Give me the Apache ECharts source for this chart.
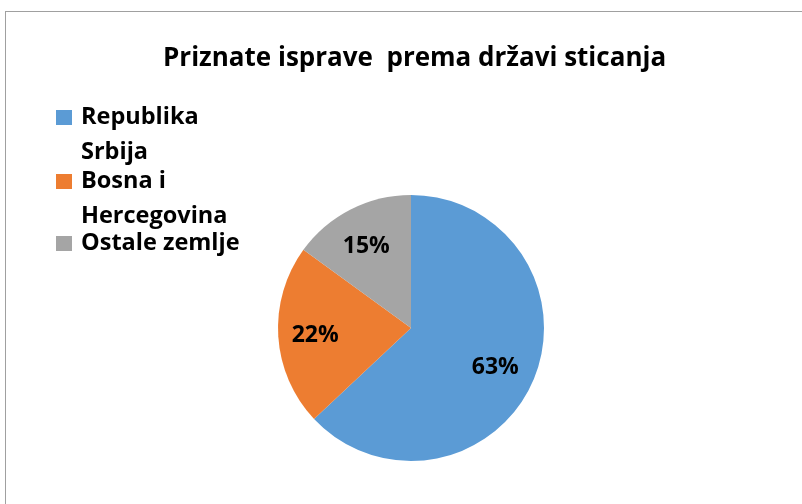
<!DOCTYPE html>
<html>
<head>
<meta charset="utf-8">
<script src="https://cdn.jsdelivr.net/npm/echarts@6/dist/echarts.min.js"></script>
<style>
  html, body { margin: 0; padding: 0; background: #fff; }
  #frame { position: absolute; left: 5px; top: 11px; width: 820px; height: 520px; border: 1px solid #a0a0a0; box-sizing: border-box; }
  #main { position: absolute; left: 0; top: 0; width: 802px; height: 504px; }
</style>
</head>
<body>
<div id="frame"></div>
<div id="main"></div>
<script>
const title = 'Priznate isprave  prema državi sticanja'
const categories = ['Republika Srbija', 'Bosna i Hercegovina', 'Ostale zemlje']
const legendLines = ['Republika\nSrbija', 'Bosna i\nHercegovina', 'Ostale zemlje']
const values = [63, 22, 15]
const colors = ['#5B9BD5', '#ED7D31', '#A5A5A5']

const font = 'Open Sans'
const pieData = categories.map((name, i) => ({ name: name, value: values[i] }))

// one legend per entry so the square sits next to the first text line
const legendTops = [100, 164, 226]
function makeLegend (i) {
  let twoLines = legendLines[i].indexOf('\n') >= 0
  return {
    orient: 'vertical',
    left: 56,
    top: legendTops[i],
    padding: 0,
    itemWidth: 20,
    itemHeight: twoLines ? 70 : 35,
    itemStyle: { borderWidth: 0 },
    data: [{
      name: categories[i],
      icon: twoLines
        ? 'path://M0,10h16v15h-16z M0,0L20,0 M0,70L20,70'
        : 'path://M0,10h16v15h-16z M0,0L20,0 M0,35L20,35'
    }],
    formatter: function (name) {
      return legendLines[categories.indexOf(name)]
    },
    textStyle: { fontFamily: font, fontWeight: 'bold', fontSize: 23.5, color: '#000', lineHeight: 35 }
  }
}

let myChart = echarts.init(document.getElementById('main'))
myChart.setOption({
  animation: false,
  color: colors,
  title: {
    text: title,
    left: 158,
    top: 41,
    textStyle: { fontFamily: font, fontWeight: 'bold', fontSize: 26, color: '#000' }
  },
  legend: categories.map((c, i) => makeLegend(i)),
  series: [
    {
      type: 'pie',
      center: [411, 328],
      radius: [0, 133],
      startAngle: 90,
      clockwise: true,
      silent: true,
      label: { show: false },
      labelLine: { show: false },
      data: pieData
    },
    {
      // transparent ring used only to put the percent labels at ~0.68 r
      type: 'pie',
      center: [411, 328],
      radius: [49, 133],
      startAngle: 90,
      clockwise: true,
      silent: true,
      itemStyle: { color: 'transparent' },
      label: {
        show: true,
        position: 'inside',
        formatter: '{c}%',
        offset: [-2, 2],
        fontFamily: font,
        fontWeight: 'bold',
        fontSize: 23,
        color: '#000'
      },
      labelLine: { show: false },
      data: pieData
    }
  ]
})
</script>
</body>
</html>
